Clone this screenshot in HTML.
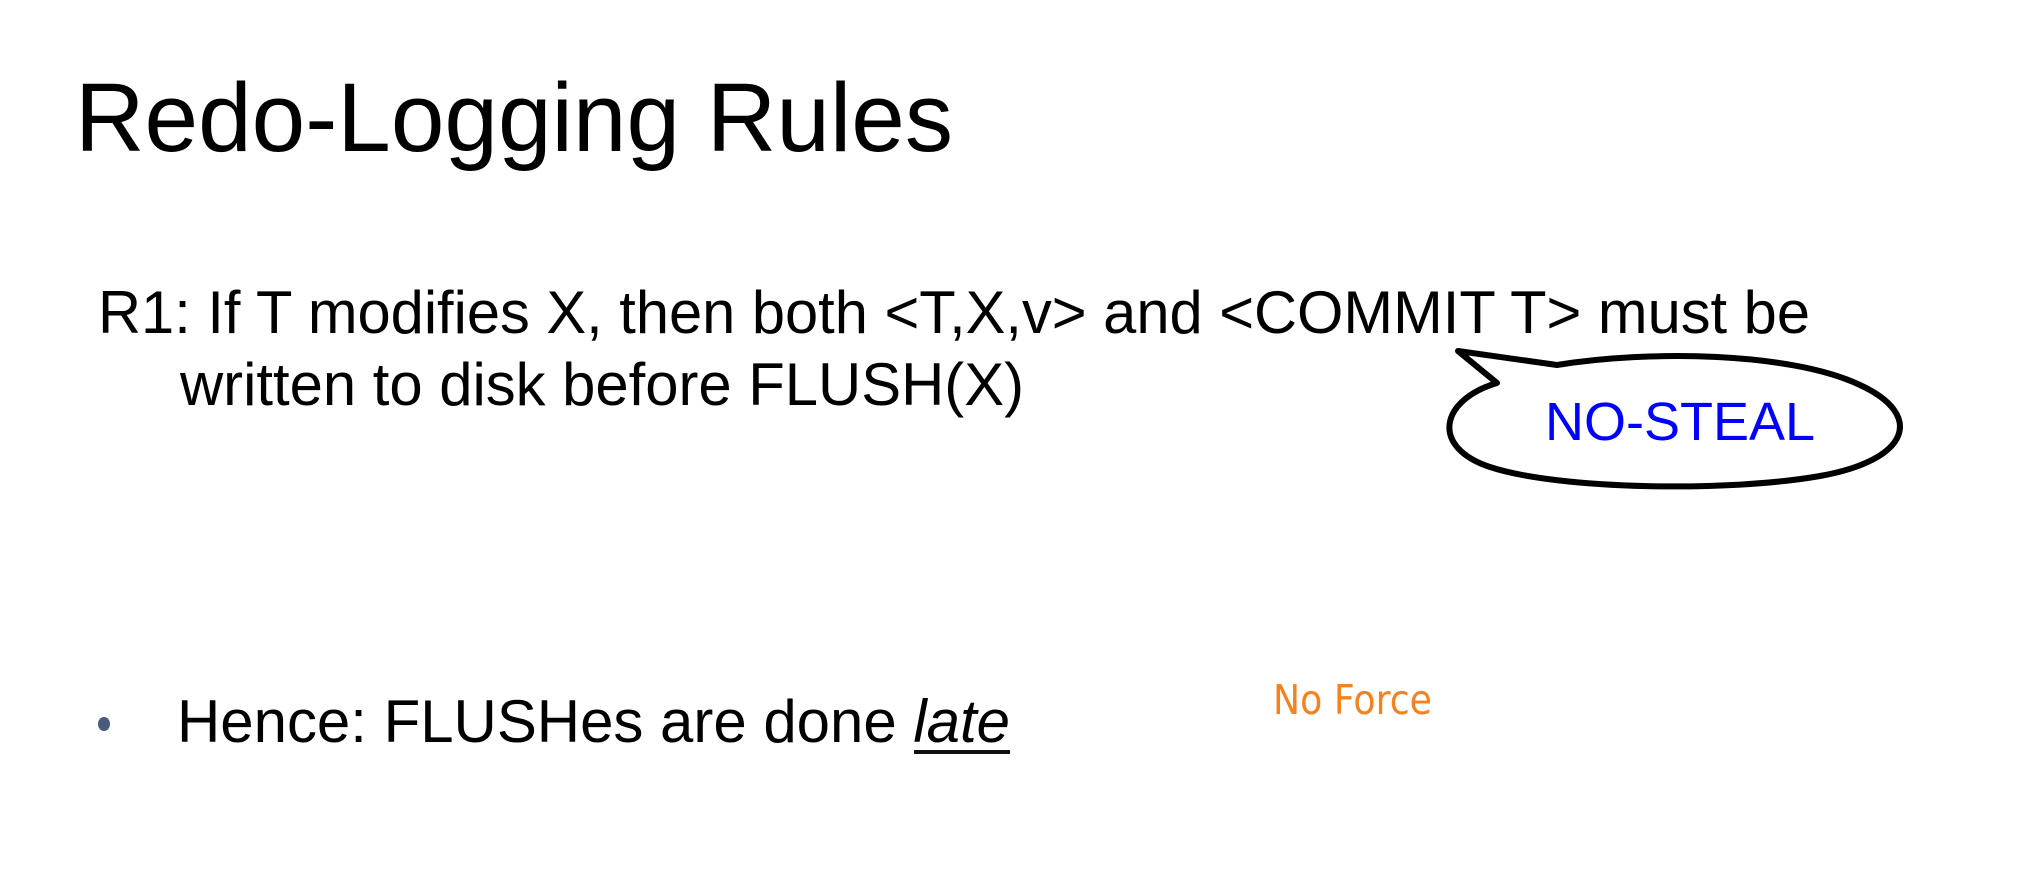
<!DOCTYPE html>
<html><head><meta charset="utf-8"><style>
html,body{margin:0;padding:0;background:#fff;width:2019px;height:883px;overflow:hidden}
</style></head><body>
<svg width="2019" height="883" xmlns="http://www.w3.org/2000/svg" font-family="'Liberation Sans', Arial, sans-serif">
<text x="75" y="151" font-size="97" textLength="878" lengthAdjust="spacingAndGlyphs">Redo-Logging Rules</text>
<text x="98" y="333" font-size="60" textLength="1712" lengthAdjust="spacingAndGlyphs">R1: If T modifies X, then both &lt;T,X,v&gt; and &lt;COMMIT T&gt; must be</text>
<text x="180" y="405" font-size="60" textLength="844" lengthAdjust="spacingAndGlyphs">written to disk before FLUSH(X)</text>
<path d="M1557,365 C1650,350 1790,352 1860,385 C1925,415 1910,460 1820,476 C1730,492 1560,490 1490,467 C1430,447 1440,400 1497,383 L1458,351 Z" fill="#fff" stroke="#000" stroke-width="6" stroke-linejoin="round"/>
<text x="1545" y="440" font-size="54" fill="#0000ff" textLength="270" lengthAdjust="spacingAndGlyphs">NO-STEAL</text>
<ellipse cx="104" cy="724" rx="6" ry="7" fill="#4a5a7a"/>
<text x="177" y="742" font-size="60" textLength="833" lengthAdjust="spacingAndGlyphs">Hence: FLUSHes are done <tspan font-style="italic">late</tspan></text>
<rect x="914" y="750" width="96" height="4" fill="#111"/>
<text x="1273" y="714" font-size="41" fill="#f58220" font-family="'DejaVu Sans', sans-serif" textLength="159" lengthAdjust="spacingAndGlyphs">No Force</text>
</svg>
</body></html>
